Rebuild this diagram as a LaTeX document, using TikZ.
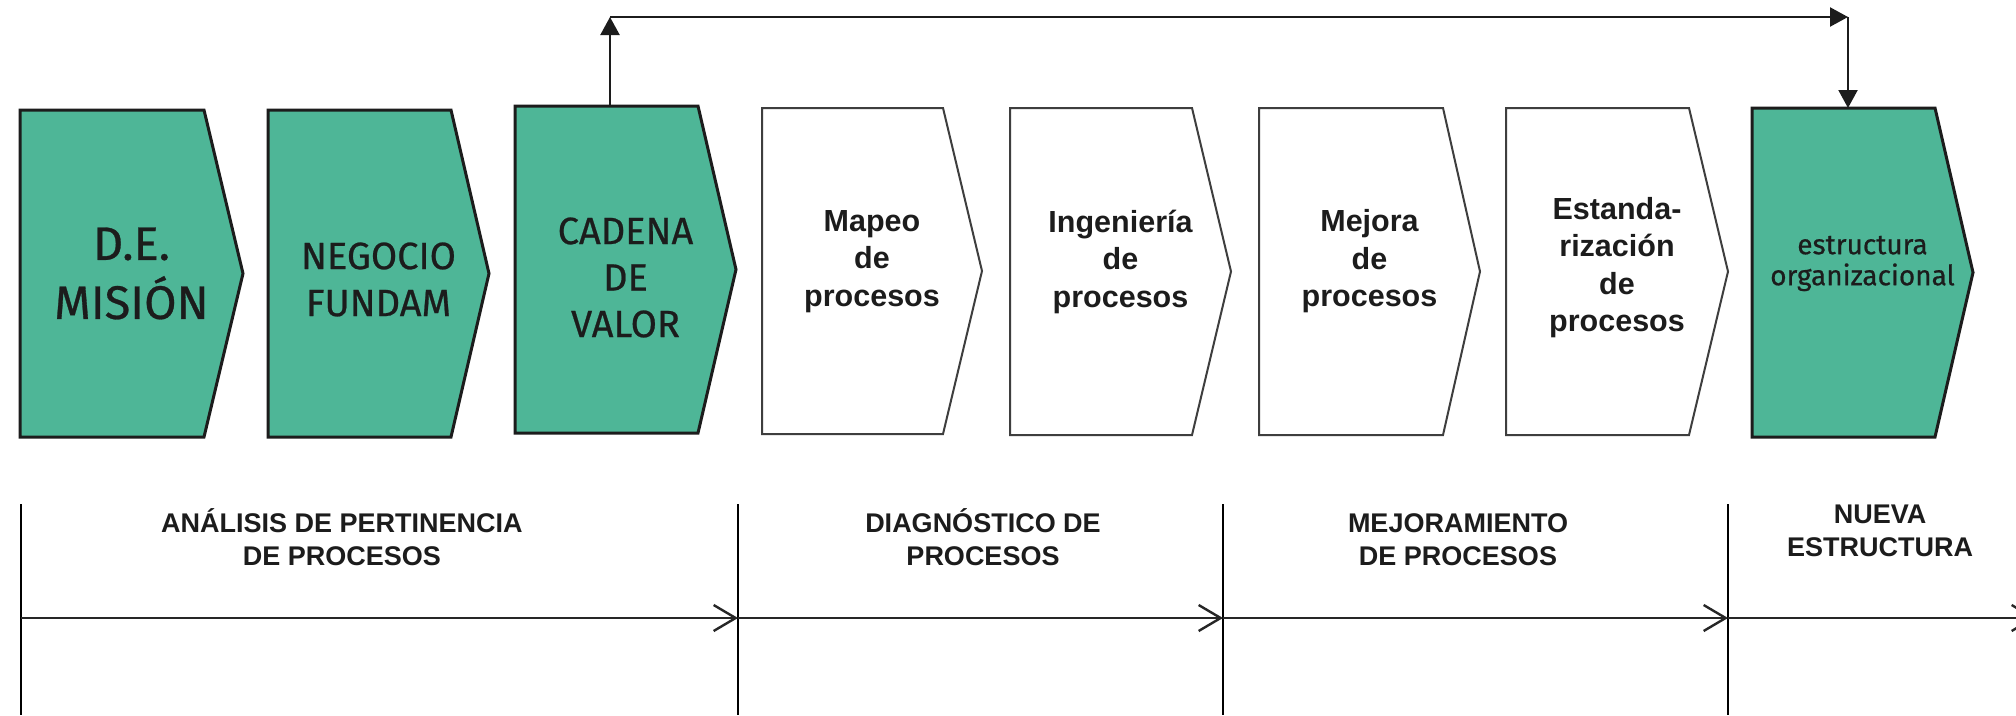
\documentclass[tikz,border=0pt]{standalone}
\usepackage{fontspec}
\setmainfont{Liberation Sans}
\newfontfamily\dinfont[FakeBold=0.6]{Fira Sans}
\usetikzlibrary{arrows.meta}
\definecolor{boxgreen}{RGB}{78,182,151}
\definecolor{inkdark}{RGB}{28,28,28}
\tikzset{
  greenbox/.style={fill=boxgreen, draw=inkdark, line width=3pt, line join=miter},
  whitebox/.style={fill=white, draw=inkdark!85, line width=2pt, line join=miter},
  dintext/.style={text=inkdark, align=center, inner sep=0pt},
  arialtext/.style={text=inkdark, align=center, inner sep=0pt, font=\bfseries\fontsize{30.5}{37.5}\selectfont},
  flowline/.style={line width=2.2pt, draw=inkdark},
  flowarrow/.style={flowline, -{Triangle[length=18pt,width=19pt]}},
  phaseline/.style={line width=1.6pt, draw=black},
  timeline/.style={line width=2.8pt, draw=black!85, -{Straight Barb[length=22pt,width=26pt,line width=2.4pt]}},
  phaselabel/.style={text=inkdark, font=\bfseries\fontsize{27}{33}\selectfont, align=center, inner sep=0pt},
}
\newcommand\chevshape[6]{% style, xl, xc, xt, yt, yb
  \draw[#1] (#2,#5) -- (#3,#5) -- (#4,{(#5+#6)/2}) -- (#3,#6) -- (#2,#6) -- cycle;
}
\begin{document}
\begin{tikzpicture}[x=1pt,y=-1pt]
\clip (0,0) rectangle (2016,715);
\fill[white] (0,0) rectangle (2016,715);

% process shapes
\chevshape{greenbox}{20}{204}{243}{110}{437}
\chevshape{greenbox}{268}{451}{489}{110}{437}
\chevshape{greenbox}{515}{698}{736}{106}{433}
\chevshape{whitebox}{762}{943}{982}{108}{434}
\chevshape{whitebox}{1010}{1192}{1231}{108}{435}
\chevshape{whitebox}{1259}{1443}{1480}{108}{435}
\chevshape{whitebox}{1506}{1689}{1728}{108}{435}
\chevshape{greenbox}{1752}{1935}{1973}{108}{437}

% texts in shapes
\node[dintext, font=\dinfont\fontsize{47}{59}\selectfont] (mision) at (131.5,273.5) {D.E.\\MISIÓN};
\node[dintext, font=\dinfont\fontsize{38}{47}\selectfont] (negocio) at (378.5,279.5) {NEGOCIO\\FUNDAM};
\node[dintext, font=\dinfont\fontsize{38}{46.5}\selectfont] (cadena) at (625.5,277.5) {CADENA\\DE\\VALOR};
\node[arialtext] (mapeo) at (872,261.5) {Mapeo\\de\\procesos};
\node[arialtext] (ingenieria) at (1120.5,261.5) {Ingeniería\\de\\procesos};
\node[arialtext] (mejora) at (1369.5,261.5) {Mejora\\de\\procesos};
\node[arialtext] (estandar) at (1617,267.5) {Estanda-\\rización\\de\\procesos};
\node[dintext, font=\dinfont\fontsize{28}{31}\selectfont] (estructura) at (1862.5,263.5) {estructura\\organizacional};

% feedback connector
\coordinate (cadenatop) at (610,106);
\coordinate (cornerL) at (610,17);
\coordinate (cornerR) at (1848,17);
\coordinate (estructuratop) at (1848,108);
\draw[flowarrow] (cadenatop) -- (cornerL);
\draw[flowarrow] (cornerL) -- (cornerR);
\draw[flowarrow] (cornerR) -- (estructuratop);

% phase dividers
\coordinate (p0) at (21,618);
\coordinate (p1) at (738,618);
\coordinate (p2) at (1223,618);
\coordinate (p3) at (1728,618);
\coordinate (p4) at (2036,618);
\foreach \xx in {21,738,1223,1728}{
  \draw[phaseline] (\xx,504) -- (\xx,715);
}
\draw[timeline] (p0) -- (p1);
\draw[timeline] (p1) -- (p2);
\draw[timeline] (p2) -- (p3);
\draw[timeline] (p3) -- (p4);

% phase labels
\node[phaselabel] (analisis) at (342,537) {ANÁLISIS DE PERTINENCIA\\DE PROCESOS};
\node[phaselabel] (diagnostico) at (983,537) {DIAGNÓSTICO DE\\PROCESOS};
\node[phaselabel] (mejoramiento) at (1458,540) {MEJORAMIENTO\\DE PROCESOS};
\node[phaselabel] (nueva) at (1880,531) {NUEVA\\ESTRUCTURA};
\end{tikzpicture}
\end{document}
